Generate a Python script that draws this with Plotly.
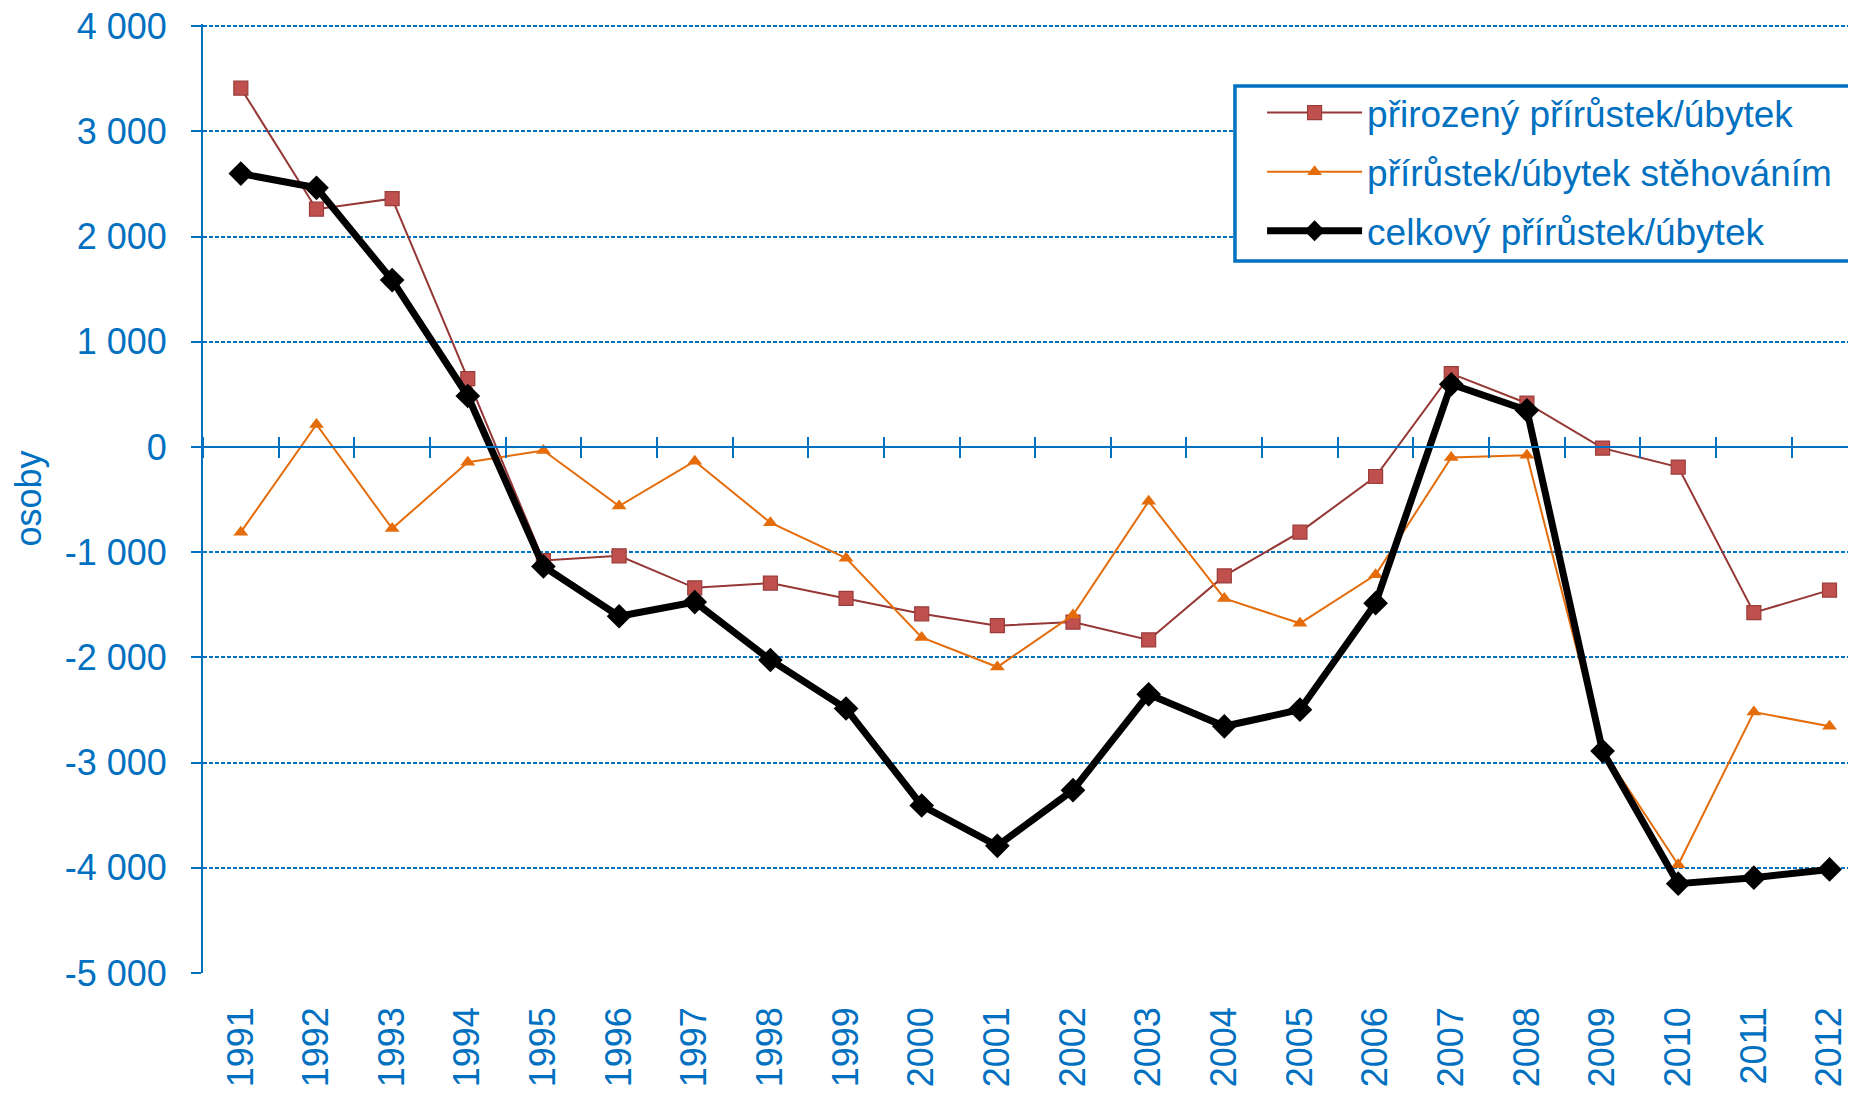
import plotly.graph_objects as go

years = ["1991", "1992", "1993", "1994", "1995", "1996", "1997", "1998", "1999", "2000", "2001",
         "2002", "2003", "2004", "2005", "2006", "2007", "2008", "2009", "2010", "2011", "2012"]

natural = [3410, 2260, 2360, 650, -1080, -1035, -1339, -1294, -1440, -1586, -1699,
           -1665, -1834, -1226, -810, -281, 697, 416, -11, -191, -1575, -1361]

migration = [-810, 214, -776, -146, -34, -562, -135, -720, -1057, -1811, -2092,
             -1597, -517, -1440, -1676, -1215, -101, -79, -2880, -3971, -2520, -2655]

total = [2598, 2463, 1586, 484, -1136, -1609, -1474, -2025, -2486, -3408, -3791,
         -3262, -2351, -2655, -2497, -1485, 596, 349, -2891, -4151, -4094, -4016]

names = ["přirozený přírůstek/úbytek", "přírůstek/úbytek stěhováním", "celkový přírůstek/úbytek"]

y_tickvals = [4000, 3000, 2000, 1000, 0, -1000, -2000, -3000, -4000, -5000]
y_ticktext = ["4 000", "3 000", "2 000", "1 000", "0", "-1 000", "-2 000", "-3 000", "-4 000", "-5 000"]

BLUE = "#0070C0"
FONT = "Liberation Sans, Arial, sans-serif"
FS = 36

fig = go.Figure()

fig.add_trace(go.Scatter(
    x=years, y=natural, name=names[0], mode="lines+markers",
    line=dict(color="#953735", width=2),
    marker=dict(symbol="square", size=14, color="#C0504D", line=dict(color="#9B3D3B", width=1.2)),
    legendgroup="a",
))
fig.add_trace(go.Scatter(
    x=years, y=migration, name=names[1], mode="lines+markers",
    line=dict(color="#E46C0A", width=2),
    marker=dict(symbol="triangle-up", size=13, color="#E46C0A"),
    legendgroup="b",
))
fig.add_trace(go.Scatter(
    x=years, y=total, name=names[2], mode="lines+markers",
    line=dict(color="#000000", width=7),
    marker=dict(symbol="diamond", size=19, color="#000000"),
    legendgroup="c",
))

# helper (invisible) traces so the zero-line category axes exist
for ax in ["x2", "x3"]:
    fig.add_trace(go.Scatter(x=years, y=[None] * len(years), xaxis=ax, yaxis="y",
                             mode="lines", showlegend=False, hoverinfo="skip"))

xr = [-0.5, 21.35]
yr = [-5000, 4020]
zero_pos = (0 - yr[0]) / (yr[1] - yr[0])

H = 1085
T, B = 16, 120
plot_h = H - T - B


def py(v):
    """paper y fraction for a data value"""
    return (v - yr[0]) / (yr[1] - yr[0])


def px_to_paper_y(screen_y):
    fig_y = screen_y - 8
    return (H - B - fig_y) / plot_h


# page body has an 8px margin, so the figure is 8px smaller to fill the window exactly
fig.update_layout(
    width=1848, height=H,
    margin=dict(l=195, r=0, t=T, b=B, autoexpand=False),
    paper_bgcolor="white", plot_bgcolor="white",
    font=dict(family=FONT, size=FS, color=BLUE),
    showlegend=True,
    legend=dict(
        x=0.6407, y=px_to_paper_y(82), xanchor="left", yanchor="top",
        borderwidth=0, bgcolor="rgba(0,0,0,0)",
        font=dict(family=FONT, size=37, color=BLUE),
        traceorder="grouped", tracegroupgap=8,
        itemwidth=95,
    ),
    shapes=[dict(
        type="rect", xref="paper", yref="paper",
        x0=0.6243, x1=1.0145, y0=px_to_paper_y(261), y1=px_to_paper_y(86),
        line=dict(color=BLUE, width=3.5), fillcolor="white", layer="above",
    )],
    xaxis=dict(
        type="category", categoryorder="array", categoryarray=years,
        range=xr, showline=False, showgrid=False, zeroline=False,
        ticks="", tickangle=-90, tickfont=dict(family=FONT, size=FS, color=BLUE),
        ticklabelstandoff=26, ticklabeloverflow="allow",
    ),
    xaxis2=dict(
        type="category", categoryorder="array", categoryarray=years,
        overlaying="x", anchor="free", position=zero_pos, side="bottom",
        range=xr, showline=True, linecolor=BLUE, linewidth=2,
        ticks="outside", tickson="boundaries", ticklen=10, tickwidth=2, tickcolor=BLUE,
        showticklabels=False, showgrid=False, zeroline=False,
    ),
    xaxis3=dict(
        type="category", categoryorder="array", categoryarray=years,
        overlaying="x", anchor="free", position=zero_pos, side="top",
        range=xr, showline=False,
        ticks="outside", tickson="boundaries", ticklen=10, tickwidth=2, tickcolor=BLUE,
        showticklabels=False, showgrid=False, zeroline=False,
    ),
    yaxis=dict(
        range=yr, tickmode="array", tickvals=y_tickvals, ticktext=y_ticktext,
        showline=True, linecolor=BLUE, linewidth=2,
        ticks="outside", ticklen=10, tickwidth=2, tickcolor=BLUE,
        showgrid=True, gridcolor=BLUE, gridwidth=2, griddash="4px,2px",
        zeroline=True, zerolinecolor=BLUE, zerolinewidth=2,
        tickfont=dict(family=FONT, size=FS, color=BLUE),
        ticklabelstandoff=17, ticklabeloverflow="allow",
        title=dict(text="osoby", font=dict(family=FONT, size=FS, color=BLUE), standoff=15),
    ),
)

fig.write_html("out.html")
